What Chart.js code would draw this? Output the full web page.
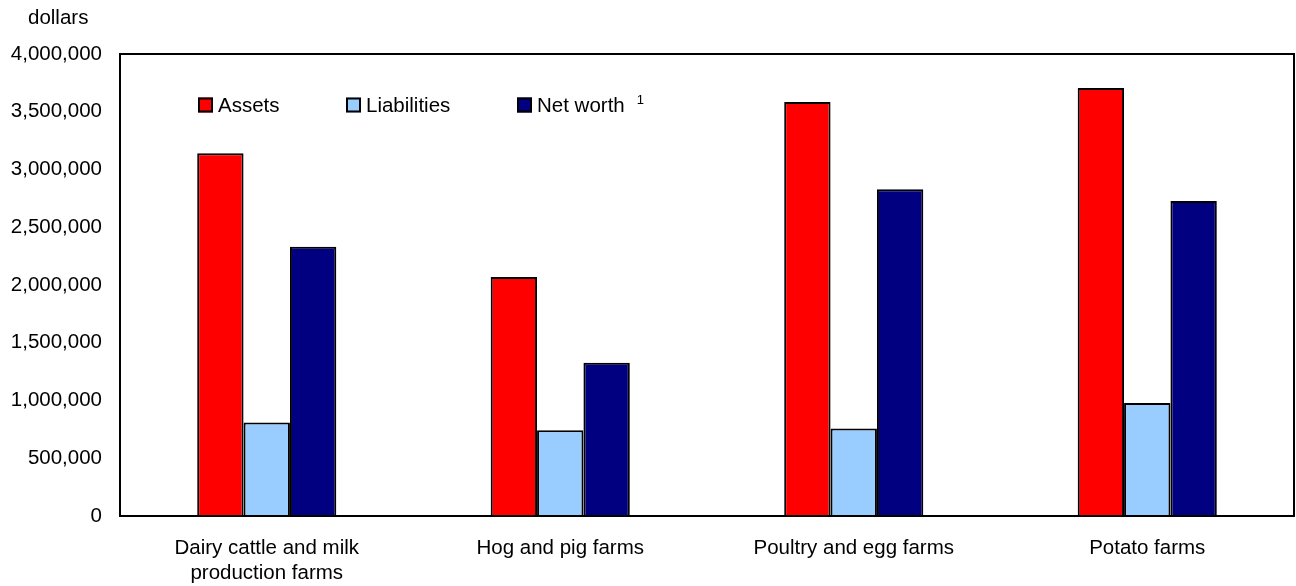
<!DOCTYPE html>
<html>
<head>
<meta charset="utf-8">
<script src="https://cdn.jsdelivr.net/npm/chart.js@4.4.0/dist/chart.umd.min.js"></script>
<style>
  html, body { margin: 0; padding: 0; background: #ffffff; }
  #wrap { width: 1296px; height: 586px; position: relative; }
</style>
</head>
<body>
<div id="wrap"><canvas id="c" width="1296" height="586"></canvas></div>
<script>
const categories = [
  ['Dairy cattle and milk', 'production farms'],
  'Hog and pig farms',
  'Poultry and egg farms',
  'Potato farms'
];
const assets      = [3140000, 2070000, 3585000, 3705000];
const liabilities = [ 809000,  743000,  757000,  978000];
const netWorth    = [2331000, 1327000, 2828000, 2727000];
const seriesNames = ['Assets', 'Liabilities', 'Net worth'];
const yTicks = [0, 500000, 1000000, 1500000, 2000000, 2500000, 3000000, 3500000, 4000000];
const unitLabel = 'dollars';
const footnoteMark = '1';

const FONT = '"Liberation Sans", Arial, Helvetica, sans-serif';
const FS = 20.5;

const framePlugin = {
  id: 'frame',
  afterDraw(chart) {
    const { ctx, chartArea: a } = chart;
    ctx.save();
    ctx.strokeStyle = '#000000';
    ctx.lineWidth = 2;
    ctx.strokeRect(a.left, a.top, a.right - a.left, a.bottom - a.top);
    // unit label
    ctx.fillStyle = '#000000';
    ctx.font = FS + 'px ' + FONT;
    ctx.textAlign = 'left';
    ctx.textBaseline = 'middle';
    ctx.fillText(unitLabel, 28, 18);
    // legend inside plot
    const xs = [198, 346, 517];
    const yc = 105;
    chart.data.datasets.forEach((ds, i) => {
      ctx.fillStyle = ds.backgroundColor;
      ctx.fillRect(xs[i], yc - 7.5, 15, 15);
      ctx.lineWidth = 2;
      ctx.strokeStyle = '#000000';
      ctx.strokeRect(xs[i] + 1, yc - 6.5, 13, 13);
      ctx.fillStyle = '#000000';
      ctx.font = FS + 'px ' + FONT;
      ctx.textAlign = 'left';
      ctx.textBaseline = 'middle';
      ctx.fillText(ds.label, xs[i] + 20, yc + 1);
      if (i === 2) {
        const w = ctx.measureText(ds.label).width;
        ctx.font = '13px ' + FONT;
        ctx.fillText(footnoteMark, xs[i] + 20 + w + 12, yc - 5);
      }
    });
    ctx.restore();
  }
};

new Chart(document.getElementById('c'), {
  type: 'bar',
  data: {
    labels: categories,
    datasets: [
      { label: seriesNames[0], data: assets, backgroundColor: '#FF0000' },
      { label: seriesNames[1], data: liabilities, backgroundColor: '#99CCFF' },
      { label: seriesNames[2], data: netWorth, backgroundColor: '#000080' }
    ].map(d => Object.assign(d, { borderColor: '#000000', borderWidth: 2, categoryPercentage: 0.474, barPercentage: 1.0 }))
  },
  options: {
    responsive: false,
    animation: false,
    devicePixelRatio: 1,
    layout: { padding: { top: 54, right: 2, left: 0, bottom: 0 } },
    plugins: { legend: { display: false }, tooltip: { enabled: false }, title: { display: false } },
    scales: {
      x: {
        grid: { display: false, drawTicks: false },
        border: { display: false },
        ticks: {
          color: '#000000',
          font: { family: FONT, size: FS, lineHeight: 1.22 },
          padding: 20,
          maxRotation: 0,
          autoSkip: false
        },
        afterFit(scale) { scale.height = 70; }
      },
      y: {
        min: 0,
        max: 4000000,
        grid: { display: false, drawTicks: false },
        border: { display: false },
        afterBuildTicks(scale) { scale.ticks = yTicks.map(v => ({ value: v })); },
        ticks: {
          color: '#000000',
          font: { family: FONT, size: FS },
          padding: 18,
          callback: v => Number(v).toLocaleString('en-US')
        },
        afterFit(scale) { scale.width = 120; }
      }
    }
  },
  plugins: [framePlugin]
});
</script>
</body>
</html>
